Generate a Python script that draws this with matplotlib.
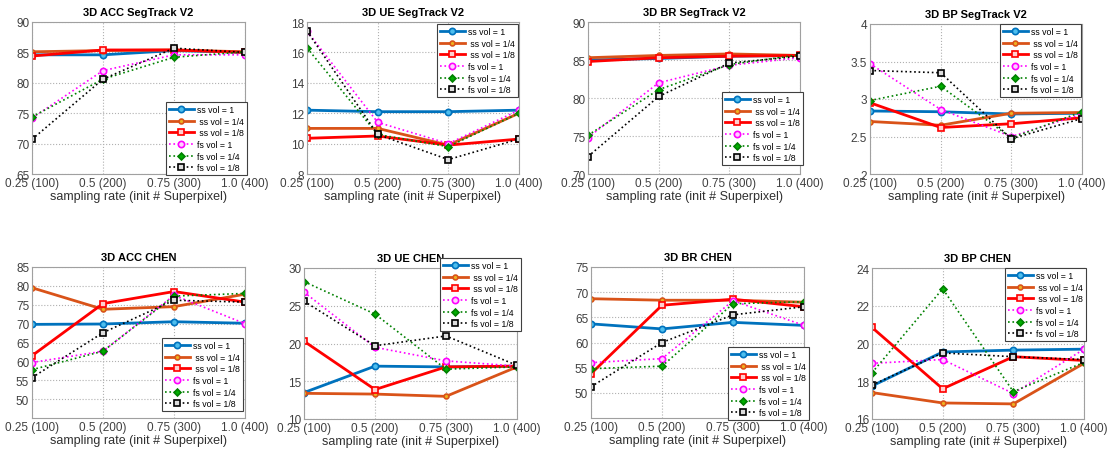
import matplotlib
matplotlib.use("Agg")
import matplotlib.pyplot as plt

plt.rcParams['font.family'] = ['Liberation Sans', 'DejaVu Sans']

W, H = 1112, 452

rates = [0.25, 0.5, 0.75, 1.0]
rate_labels = ['0.25 (100)', '0.5 (200)', '0.75 (300)', '1.0 (400)']
series_names = ['ss vol = 1', ' ss vol = 1/4', ' ss vol = 1/8',
                'fs vol = 1', 'fs vol = 1/4', 'fs vol = 1/8']

# each panel: six series in the order of series_names
acc_seg = [[84.6, 84.6, 85.3, 85.0],
           [85.1, 85.3, 85.4, 85.1],
           [84.4, 85.4, 85.4, 85.0],
           [74.2, 82.0, 84.6, 84.6],
           [74.4, 80.6, 84.2, 85.1],
           [70.7, 80.6, 85.7, 85.0]]
ue_seg = [[12.2, 12.1, 12.1, 12.2],
          [11.0, 11.0, 9.9, 12.0],
          [10.35, 10.5, 9.9, 10.3],
          [17.4, 11.4, 10.0, 12.2],
          [16.3, 10.6, 9.8, 12.0],
          [17.4, 10.6, 8.95, 10.3]]
br_seg = [[85.0, 85.2, 85.5, 85.6],
          [85.3, 85.6, 85.8, 85.6],
          [84.8, 85.3, 85.5, 85.6],
          [74.8, 82.0, 84.3, 85.3],
          [75.1, 81.1, 84.4, 85.7],
          [72.3, 80.2, 84.6, 85.5]]
bp_seg = [[2.84, 2.83, 2.80, 2.81],
          [2.70, 2.65, 2.81, 2.82],
          [2.95, 2.62, 2.67, 2.75],
          [3.47, 2.86, 2.50, 2.80],
          [2.98, 3.17, 2.48, 2.83],
          [3.38, 3.35, 2.47, 2.74]]
acc_chen = [[69.8, 69.9, 70.5, 70.1],
            [79.5, 73.8, 74.5, 77.8],
            [61.5, 75.3, 78.5, 75.7],
            [59.7, 62.7, 77.5, 70.0],
            [57.8, 62.7, 77.3, 78.0],
            [55.7, 67.6, 76.2, 75.7]]
ue_chen = [[13.5, 17.0, 16.9, 17.0],
           [13.4, 13.3, 13.0, 16.9],
           [20.3, 13.9, 16.9, 17.0],
           [26.8, 19.5, 17.7, 17.0],
           [28.2, 23.9, 16.6, 16.9],
           [25.6, 19.7, 21.0, 17.1]]
br_chen = [[63.7, 62.7, 64.0, 63.4],
           [68.7, 68.4, 68.4, 68.0],
           [53.8, 67.4, 68.6, 67.1],
           [56.0, 56.8, 68.3, 63.4],
           [54.8, 55.3, 67.7, 68.1],
           [51.2, 60.0, 65.5, 67.1]]
bp_chen = [[17.75, 19.55, 19.65, 19.7],
           [17.4, 16.85, 16.8, 18.95],
           [20.85, 17.6, 19.3, 19.1],
           [18.95, 19.15, 17.35, 19.7],
           [18.45, 22.9, 17.45, 19.0],
           [17.8, 19.5, 19.3, 19.15]]

styles = [
    dict(color='#0072BD', ls='-', lw=2.0, marker='o', mfc='#4DBEEE', ms=4.5),
    dict(color='#D95319', ls='-', lw=2.0, marker='o', mfc='#EDB120', ms=3.5),
    dict(color='#FF0000', ls='-', lw=2.0, marker='s', mfc='#FFD0D0', ms=4.5),
    dict(color='#FF00FF', ls=':', lw=1.2, marker='o', mfc='#FFD0FF', ms=4.5),
    dict(color='#008000', ls=':', lw=1.2, marker='D', mfc='#00B000', ms=3.5),
    dict(color='#000000', ls=':', lw=1.2, marker='s', mfc='#DDDDDD', ms=4.5),
]

# title, data, ylim, yticks, axes box (left, top, right, bottom) in px, legend (left, top) in px
panels = [
    ('3D ACC SegTrack V2', acc_seg, (65, 90), range(65, 91, 5), (32, 23, 245, 175), (166, 103)),
    ('3D UE SegTrack V2', ue_seg, (8, 18), range(8, 19, 2), (307, 23, 519, 175), (437, 25)),
    ('3D BR SegTrack V2', br_seg, (70, 90), range(70, 91, 5), (588, 23, 800, 175), (722, 93)),
    ('3D BP SegTrack V2', bp_seg, (2, 4), [2, 2.5, 3, 3.5, 4], (870, 25, 1082, 175), (1000, 25)),
    ('3D ACC CHEN', acc_chen, (45, 85), range(50, 86, 5), (32, 268, 245, 419), (162, 339)),
    ('3D UE CHEN', ue_chen, (10, 30), range(10, 31, 5), (304, 269, 517, 420), (440, 259)),
    ('3D BR CHEN', br_chen, (45, 75), range(50, 76, 5), (591, 268, 804, 419), (728, 348)),
    ('3D BP CHEN', bp_chen, (16, 24), range(16, 25, 2), (872, 269, 1084, 420), (1005, 269)),
]

fig = plt.figure(figsize=(W / 100, H / 100), dpi=100)

for title, data, ylim, yticks, box, leg in panels:
    l, t, r, b = box
    ax = fig.add_axes([l / W, 1 - b / H, (r - l) / W, (b - t) / H])
    for vals, name, st in zip(data, series_names, styles):
        ax.plot(rates, vals, label=name, color=st['color'], ls=st['ls'], lw=st['lw'],
                marker=st['marker'], ms=st['ms'], mfc=st['mfc'], mec=st['color'], mew=1.2)
    ax.set_xlim(0.25, 1.0)
    ax.set_ylim(*ylim)
    ax.set_xticks(rates)
    ax.set_xticklabels(rate_labels)
    ax.set_yticks(list(yticks))
    ax.set_yticklabels([f'{v:g}' for v in yticks])
    ax.tick_params(labelsize=8.5, colors='#404040', length=0, pad=2)
    ax.grid(True, ls=':', color='#B0B0B0', lw=0.8)
    for s in ax.spines.values():
        s.set_color('#A0A0A0')
    ax.set_xlabel('sampling rate (init # Superpixel)', fontsize=9, color='#303030', labelpad=1)
    ax.set_title(title, fontsize=8, fontweight='bold', pad=5)
    lg = ax.legend(loc='upper left', bbox_to_anchor=(leg[0] / W, 1 - leg[1] / H),
                   bbox_transform=fig.transFigure, fontsize=6.3, labelspacing=0.3,
                   handlelength=2.8, handletextpad=0.4, borderpad=0.35, borderaxespad=0,
                   fancybox=False, framealpha=1, edgecolor='#404040')
    lg.get_frame().set_linewidth(0.8)

fig.savefig('out.png', dpi=100)
